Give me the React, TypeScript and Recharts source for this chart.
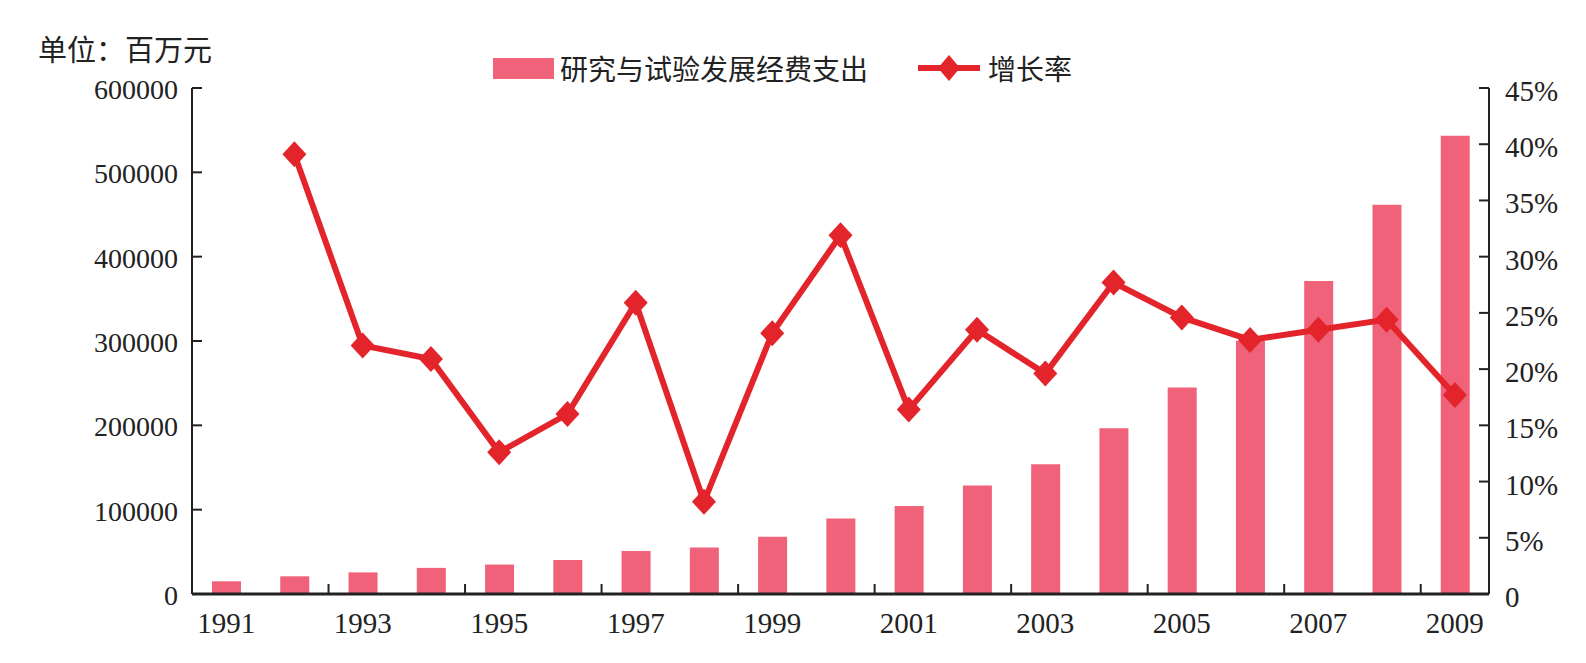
import React from "react";
import { Bar, ComposedChart, Line, XAxis, YAxis } from "recharts";

const years = [
  "1991", "1992", "1993", "1994", "1995", "1996", "1997", "1998", "1999", "2000",
  "2001", "2002", "2003", "2004", "2005", "2006", "2007", "2008", "2009",
];
const spending = [
  15080, 20980, 25620, 30980, 34870, 40450, 50920, 55110, 67890, 89570,
  104250, 128760, 153960, 196630, 245000, 300310, 371020, 461600, 543300,
];
const growth: (number | null)[] = [
  null, 39.1, 22.1, 20.9, 12.6, 16.0, 25.9, 8.2, 23.2, 31.9,
  16.4, 23.5, 19.6, 27.7, 24.6, 22.6, 23.5, 24.4, 17.7,
];
const leftTicks = [0, 100000, 200000, 300000, 400000, 500000, 600000];
const rightTicks = [0, 5, 10, 15, 20, 25, 30, 35, 40, 45];

const data = years.map((year, i) => ({ year, spending: spending[i], growth: growth[i] }));

const W = 1586;
const H = 663;
const LEFT = 192;
const RIGHT = 1489;
const TOP = 88;
const BOTTOM = 594;
const BAND = (RIGHT - LEFT) / years.length;

const BAR_COLOR = "#F0617A";
const LINE_COLOR = "#E3242B";
const SERIF = "'Liberation Serif', 'Times New Roman', serif";
const CJK = "'Noto Sans CJK SC', sans-serif";

const LeftTick = ({ y, payload }: any) => (
  <g>
    <line x1={LEFT} x2={LEFT + 10} y1={y} y2={y} stroke="#222" strokeWidth={2} />
    <text x={LEFT - 14} y={y} dy={11} textAnchor="end" fontSize={28} fontFamily={SERIF} fill="#222">
      {payload.value}
    </text>
  </g>
);

const RightTick = ({ y, payload }: any) => (
  <g>
    <line x1={RIGHT - 10} x2={RIGHT} y1={y} y2={y} stroke="#222" strokeWidth={2} />
    <text x={RIGHT + 16} y={y} dy={13} textAnchor="start" fontSize={29} fontFamily={SERIF} fill="#222">
      {payload.value === 0 ? "0" : `${payload.value}%`}
    </text>
  </g>
);

const BottomTick = ({ x, index, payload }: any) => {
  if (index % 2 === 1) {
    const lx = x + BAND / 2;
    return <line x1={lx} x2={lx} y1={BOTTOM} y2={BOTTOM - 10} stroke="#222" strokeWidth={2} />;
  }
  return (
    <text x={x} y={BOTTOM + 39} textAnchor="middle" fontSize={29} fontFamily={SERIF} fill="#222">
      {payload.value}
    </text>
  );
};

const Diamond = ({ cx, cy }: any) => {
  if (cx == null || cy == null) return null;
  return (
    <polygon
      points={`${cx},${cy - 13} ${cx + 12},${cy} ${cx},${cy + 13} ${cx - 12},${cy}`}
      fill={LINE_COLOR}
    />
  );
};

export default function App() {
  return (
    <div style={{ position: "absolute", left: 0, top: 0, width: W, height: H, background: "#fff" }}>
      <div
        style={{
          position: "absolute",
          left: 38,
          top: 30,
          fontSize: 29,
          fontFamily: CJK,
          color: "#222",
          lineHeight: "36px",
        }}
      >
        单位：百万元
      </div>
      <div
        style={{
          position: "absolute",
          left: 493,
          top: 50,
          height: 36,
          display: "flex",
          alignItems: "center",
          fontSize: 28,
          fontFamily: CJK,
          color: "#222",
        }}
      >
        <span style={{ display: "inline-block", width: 61, height: 21, background: BAR_COLOR, marginRight: 6 }} />
        <span>研究与试验发展经费支出</span>
        <svg width={62} height={28} style={{ marginLeft: 50, marginRight: 8 }}>
          <line x1={0} x2={62} y1={14} y2={14} stroke={LINE_COLOR} strokeWidth={6} />
          <polygon points="31,1 42,14 31,27 20,14" fill={LINE_COLOR} />
        </svg>
        <span>增长率</span>
      </div>
      <ComposedChart
        width={W}
        height={H}
        data={data}
        margin={{ top: TOP, right: 0, bottom: 0, left: 0 }}
      >
        <XAxis
          dataKey="year"
          interval={0}
          height={H - BOTTOM}
          axisLine={{ stroke: "#222", strokeWidth: 3 }}
          tickLine={false}
          tick={<BottomTick />}
        />
        <YAxis
          yAxisId="left"
          orientation="left"
          width={LEFT}
          domain={[0, 600000]}
          ticks={leftTicks}
          axisLine={{ stroke: "#222", strokeWidth: 2 }}
          tickLine={false}
          tick={<LeftTick />}
        />
        <YAxis
          yAxisId="right"
          orientation="right"
          width={W - RIGHT}
          domain={[0, 45]}
          ticks={rightTicks}
          axisLine={{ stroke: "#222", strokeWidth: 2 }}
          tickLine={false}
          tick={<RightTick />}
        />
        <Bar yAxisId="left" dataKey="spending" fill={BAR_COLOR} barSize={29} isAnimationActive={false} />
        <Line
          yAxisId="right"
          dataKey="growth"
          stroke={LINE_COLOR}
          strokeWidth={6}
          dot={<Diamond />}
          activeDot={false}
          isAnimationActive={false}
        />
      </ComposedChart>
    </div>
  );
}
